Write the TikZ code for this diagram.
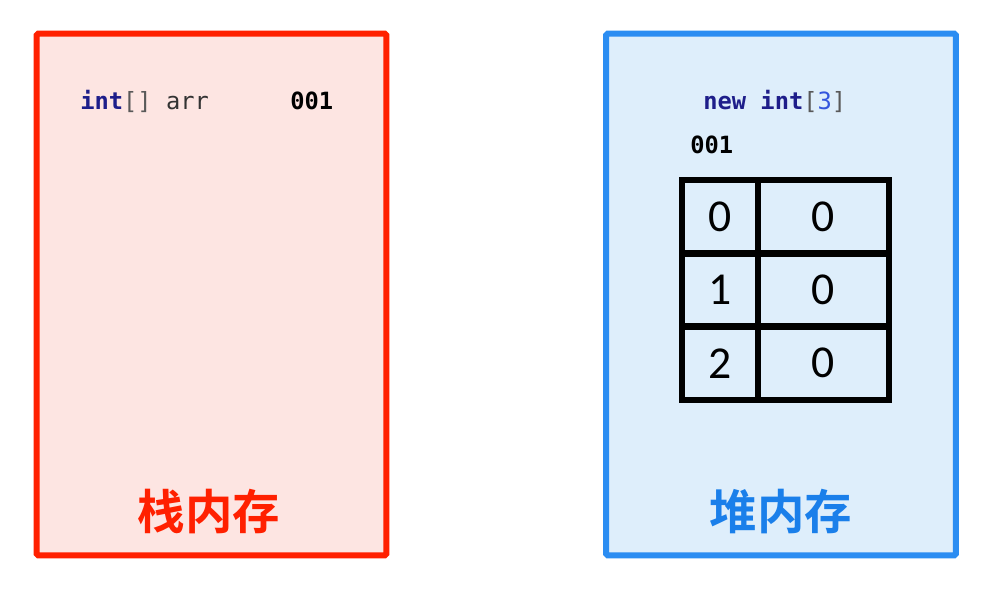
\documentclass[tikz,border=0pt]{standalone}
\usepackage{fontspec}
\setmonofont{DejaVu Sans Mono}
\newfontfamily\cellfont{Carlito}
\newfontfamily\cjk{Noto Sans CJK SC}[BoldFont={Noto Sans CJK SC Bold}]
\usetikzlibrary{positioning}

\definecolor{stackred}{HTML}{FF2000}
\definecolor{stackfill}{HTML}{FDE5E2}
\definecolor{heapblue}{HTML}{2B8DF2}
\definecolor{heapfill}{HTML}{DEEEFB}
\definecolor{heaptext}{HTML}{1A7FEA}
\definecolor{kwnavy}{HTML}{1E1E8A}
\definecolor{numblue}{HTML}{3355DD}

\begin{document}
\begin{tikzpicture}[x=0.02cm,y=-0.02cm]

\tikzstyle{mem} = [rectangle, line width=3.4pt, rounded corners=1pt, minimum width=7.0cm, minimum height=10.44cm]
\tikzstyle{code} = [anchor=west, inner sep=0pt, font=\ttfamily\fontsize{13.5}{16}\selectfont]
\tikzstyle{cell} = [rectangle, draw=black, line width=3.6pt, minimum height=1.467cm, inner sep=0pt, font=\cellfont\fontsize{26}{30}\selectfont]
\tikzstyle{title} = [font=\cjk\bfseries\fontsize{27}{32}\selectfont]

\useasboundingbox (0,0) rectangle (1000,595);

% stack memory
\node[mem, draw=stackred, fill=stackfill](S)at(211.5,294.5){};
\node[code](SV)at(80,101){\textbf{\color{kwnavy}int}{\color{black!65}[]} {\color{black!80}arr}};
\node[code](SA)at(290,101){\textbf{001}};
\node[title, text=stackred](ST)at(209,512){栈内存};

% heap memory
\node[mem, draw=heapblue, fill=heapfill](H)at(781,294.5){};
\node[code](HN)at(703,101){\textbf{\color{kwnavy}new int}{\color{black!65}[}{\color{numblue}3}{\color{black!65}]}};
\node[code](HA)at(690,145){\textbf{001}};
\node[title, text=heaptext](HT)at(781,512){堆内存};

% array cells
\node[cell, minimum width=1.52cm](i0)at(720,216.7){0};
\node[cell, minimum width=2.62cm](v0)at(823.5,216.7){0};
\node[cell, minimum width=1.52cm](i1)at(720,290){1};
\node[cell, minimum width=2.62cm](v1)at(823.5,290){0};
\node[cell, minimum width=1.52cm](i2)at(720,363.3){2};
\node[cell, minimum width=2.62cm](v2)at(823.5,363.3){0};

\end{tikzpicture}
\end{document}
